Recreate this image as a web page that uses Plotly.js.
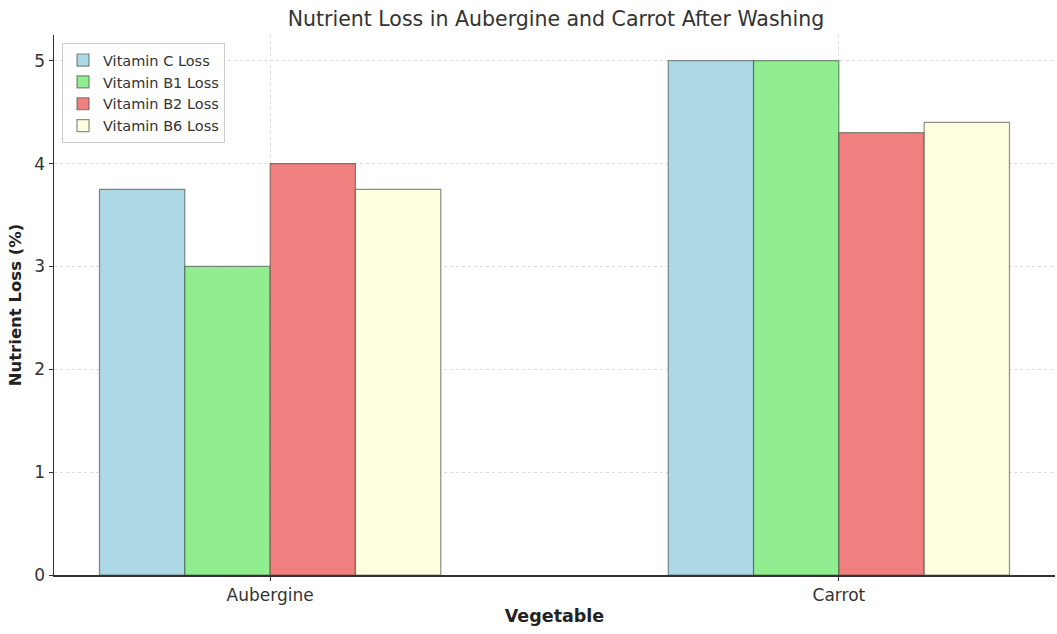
<!DOCTYPE html>
<html>
<head>
<meta charset="utf-8">
<script src="https://cdn.plot.ly/plotly-3.0.1.min.js"></script>
<style>html,body{margin:0;padding:0;background:#fff;}#chart{width:1057px;height:634px;}</style>
</head>
<body>
<div id="chart"></div>
<script>
const categories = ["Aubergine", "Carrot"];
const seriesNames = ["Vitamin C Loss", "Vitamin B1 Loss", "Vitamin B2 Loss", "Vitamin B6 Loss"];
const vitaminC = [3.75, 5.0];
const vitaminB1 = [3.0, 5.0];
const vitaminB2 = [4.0, 4.3];
const vitaminB6 = [3.75, 4.4];
const colors = ["#ADD8E6", "#90EE90", "#F08080", "#FFFFE0"];
const values = [vitaminC, vitaminB1, vitaminB2, vitaminB6];

const traces = values.map((v, i) => ({
  type: "bar",
  name: seriesNames[i],
  x: categories,
  y: v,
  marker: { color: colors[i], line: { color: "rgba(60,70,60,0.6)", width: 1.2 } },
  hoverinfo: "x+y+name"
}));

const font = "DejaVu Sans, Verdana, sans-serif";
const layout = {
  width: 1057, height: 634,
  margin: { l: 54, r: 2, t: 35, b: 59 },
  paper_bgcolor: "#fff", plot_bgcolor: "#fff",
  font: { family: font, color: "#333", size: 16 },
  title: { text: "Nutrient Loss in Aubergine and Carrot After Washing", font: { family: font, size: 20.5, color: "#333" }, x: 0.526, xanchor: "center", y: 0.971, yanchor: "middle" },
  barmode: "group", bargap: 0.4, bargroupgap: 0,
  xaxis: {
    type: "category", range: [-0.38, 1.38],
    showline: true, linecolor: "#333", linewidth: 1.5,
    ticks: "outside", ticklen: 4, tickcolor: "#333",
    showgrid: true, gridcolor: "#ddd", griddash: "dot", gridwidth: 1,
    tickfont: { size: 17, color: "#333" },
    title: { text: "<b>Vegetable</b>", font: { size: 17.5, color: "#222" }, standoff: 6 }
  },
  yaxis: {
    range: [0, 5.25], tickvals: [0, 1, 2, 3, 4, 5],
    showline: true, linecolor: "#333", linewidth: 1.5,
    ticks: "outside", ticklen: 4, tickcolor: "#333",
    showgrid: true, gridcolor: "#ddd", griddash: "dot", gridwidth: 1,
    zeroline: false,
    tickfont: { size: 17, color: "#333" },
    title: { text: "<b>Nutrient Loss (%)</b>", font: { size: 16.5, color: "#222" }, standoff: 8 }
  },
  legend: {
    x: 0.008, y: 0.985, xanchor: "left", yanchor: "top",
    bgcolor: "rgba(255,255,255,0.85)", bordercolor: "#ccc", borderwidth: 1,
    font: { size: 14.5, color: "#333" }, tracegroupgap: 0
  },
  showlegend: true
};

Plotly.newPlot("chart", traces, layout, { displayModeBar: false, staticPlot: true });
</script>
</body>
</html>
